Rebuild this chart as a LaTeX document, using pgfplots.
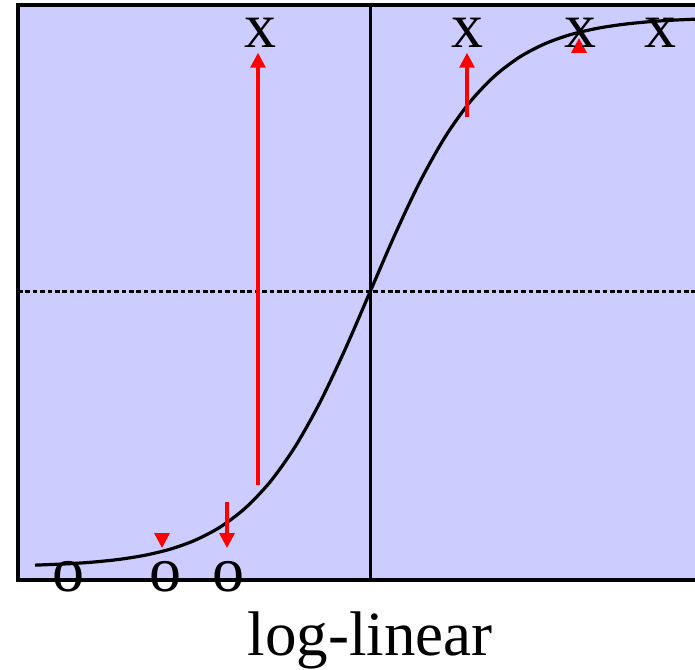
\documentclass[border=0pt]{standalone}
\usepackage{fontspec}
\setmainfont{Liberation Serif}
\usepackage{pgfplots}
\pgfplotsset{compat=1.18}
\usetikzlibrary{arrows.meta}
\definecolor{lav}{RGB}{204,204,255}
\begin{document}
\begin{tikzpicture}
\begin{axis}[
  name=ax,
  scale only axis,
  width=677pt, height=575pt,
  xmin=-3.52, xmax=3.25,
  ymin=-0.02364, ymax=1.02182,
  axis lines=none,
  ticks=none,
  clip=false,
  axis background/.style={fill=lav},
]
% reference lines
\addplot[black, line width=3pt, dash pattern=on 4.5pt off 2.9pt] coordinates {(-3.52,0.5) (3.25,0.5)};
\addplot[black, line width=3pt] coordinates {(0,-0.02364) (0,1.02182)};
% fitted curve
\addplot[black, line width=3.2pt, smooth] coordinates {
(-3.35,0.00335) (-3.0,0.00606) (-2.75,0.00924) (-2.5,0.01406) (-2.25,0.02136)
(-2.0,0.0323) (-1.75,0.0486) (-1.5,0.0724) (-1.25,0.1067) (-1.0,0.1545)
(-0.75,0.2184) (-0.5,0.2994) (-0.25,0.3953) (0,0.5) (0.25,0.6047) (0.5,0.7006)
(0.75,0.7816) (1.0,0.8455) (1.25,0.8933) (1.5,0.9276) (1.75,0.9514) (2.0,0.9677)
(2.25,0.9786) (2.5,0.9859) (2.75,0.99076) (3.0,0.99394) (3.25,0.99603)};
% residual arrows
\pgfplotsset{resid/.style={red, line width=3.2pt, -{Triangle[width=15pt,length=15pt]}}}
\addplot[resid] coordinates {(-1.12,0.149) (-1.12,0.935)};
\addplot[resid] coordinates {(0.97,0.818) (0.97,0.935)};
\addplot[resid] coordinates {(2.09,0.934) (2.09,0.962)};
\addplot[resid] coordinates {(-2.08,0.0618) (-2.08,0.0345)};
\addplot[resid] coordinates {(-1.43,0.118) (-1.43,0.0345)};
% observations
\addplot[only marks, mark=none, nodes near coords={x},
  every node near coord/.style={anchor=center, inner sep=0pt, font=\fontsize{64}{70}\selectfont}]
  coordinates {(-1.10,0.971) (0.97,0.971) (2.10,0.971) (2.90,0.971)};
\addplot[only marks, mark=none, nodes near coords={o},
  every node near coord/.style={anchor=center, inner sep=0pt, font=\fontsize{64}{70}\selectfont}]
  coordinates {(-3.02,-0.018) (-2.05,-0.018) (-1.42,-0.018)};
% frame (no right side)
\draw[black, line width=3.2pt] (rel axis cs:1.05,1) -- (rel axis cs:0,1) -- (rel axis cs:0,0) -- (rel axis cs:1.05,0);
\end{axis}
\node[font=\fontsize{63}{70}\selectfont, anchor=base, inner sep=0pt] at ([shift={(352pt,-75pt)}]ax.south west) {log-linear};
\pgfresetboundingbox
\path ([shift={(-18pt,-89pt)}]ax.south west) rectangle ([shift={(0pt,5pt)}]ax.north east);
\end{tikzpicture}
\end{document}
